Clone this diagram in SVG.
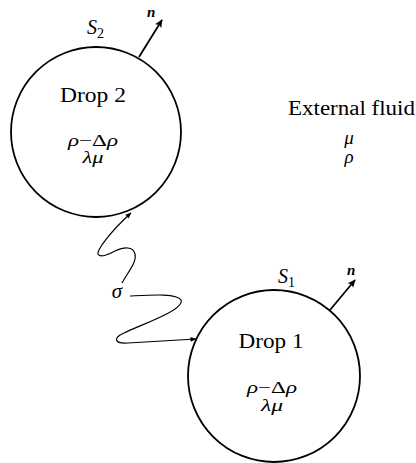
<svg xmlns="http://www.w3.org/2000/svg" width="416" height="463" viewBox="0 0 416 463">
<style>
.drop{fill:none;stroke:#000;stroke-width:1.8}
.arr{fill:none;stroke:#000;stroke-width:1.8}
.wig{fill:none;stroke:#000;stroke-width:1.2}
.t{font-family:"Liberation Serif",serif;fill:#000}
.lbl{font-size:20px}
.gr{font-size:19px;font-style:italic}
.gs{font-size:16px;font-style:italic}
.up{font-style:normal}
.n{font-size:15px;font-weight:bold;font-style:italic}
.s{font-size:20px;font-style:italic}
.sub{font-size:14px;font-style:normal}
.sig{font-size:21px;font-style:italic}
</style>
<defs>
<marker id="hn" viewBox="0 0 10 10" refX="9" refY="5" markerWidth="11" markerHeight="8" markerUnits="userSpaceOnUse" orient="auto">
<path d="M0,0.5 L10,5 L0,9.5 L2,5 Z" fill="#000"/>
</marker>
<marker id="hw" viewBox="0 0 10 10" refX="9" refY="5" markerWidth="10" markerHeight="6" markerUnits="userSpaceOnUse" orient="auto">
<path d="M0,1 L10,5 L0,9 Z" fill="#000"/>
</marker>
</defs>
<rect width="416" height="463" fill="#fff"/>
<g id="drop2" class="t">
<circle class="drop" cx="96" cy="132" r="85"/>
<text class="lbl" x="93" y="102" text-anchor="middle" textLength="66" lengthAdjust="spacingAndGlyphs">Drop 2</text>
<text class="gs" x="93" y="146" text-anchor="middle" textLength="50" lengthAdjust="spacingAndGlyphs">ρ<tspan class="up">−Δ</tspan>ρ</text>
<text class="gs" x="93" y="163" text-anchor="middle" textLength="21" lengthAdjust="spacingAndGlyphs">λμ</text>
<text class="s" x="87" y="34">S<tspan class="sub" dy="4">2</tspan></text>
<line class="arr" x1="139" y1="57" x2="162" y2="20" marker-end="url(#hn)"/>
<text class="n" x="147" y="17">n</text>
</g>
<g id="drop1" class="t">
<circle class="drop" cx="274" cy="376" r="86"/>
<text class="lbl" x="271" y="348" text-anchor="middle" textLength="65" lengthAdjust="spacingAndGlyphs">Drop 1</text>
<text class="gs" x="272" y="393" text-anchor="middle" textLength="50" lengthAdjust="spacingAndGlyphs">ρ<tspan class="up">−Δ</tspan>ρ</text>
<text class="gs" x="272" y="411" text-anchor="middle" textLength="22" lengthAdjust="spacingAndGlyphs">λμ</text>
<text class="s" x="278" y="283">S<tspan class="sub" dy="4">1</tspan></text>
<line class="arr" x1="330" y1="310" x2="355" y2="280" marker-end="url(#hn)"/>
<text class="n" x="347" y="275">n</text>
</g>
<g id="external" class="t">
<text class="lbl" x="288" y="115" textLength="127" lengthAdjust="spacingAndGlyphs">External fluid</text>
<text class="gr" x="349" y="144" text-anchor="middle">μ</text>
<text class="gr" x="349" y="163" text-anchor="middle">ρ</text>
</g>
<g id="connectors" class="t">
<path class="wig" d="M122 283 C128 272,137 262,135 254 C133 246,124 247,115 251 C108 255,100 258,98 254 C97 250,110 232,131 213" marker-end="url(#hw)"/>
<path class="wig" d="M130 296 C150 295,177 293,181 300 C185 310,140 325,124 333 C113 338,114 344,128 343 L196 339" marker-end="url(#hw)"/>
<text class="sig" x="117" y="298" text-anchor="middle">σ</text>
</g>
</svg>
